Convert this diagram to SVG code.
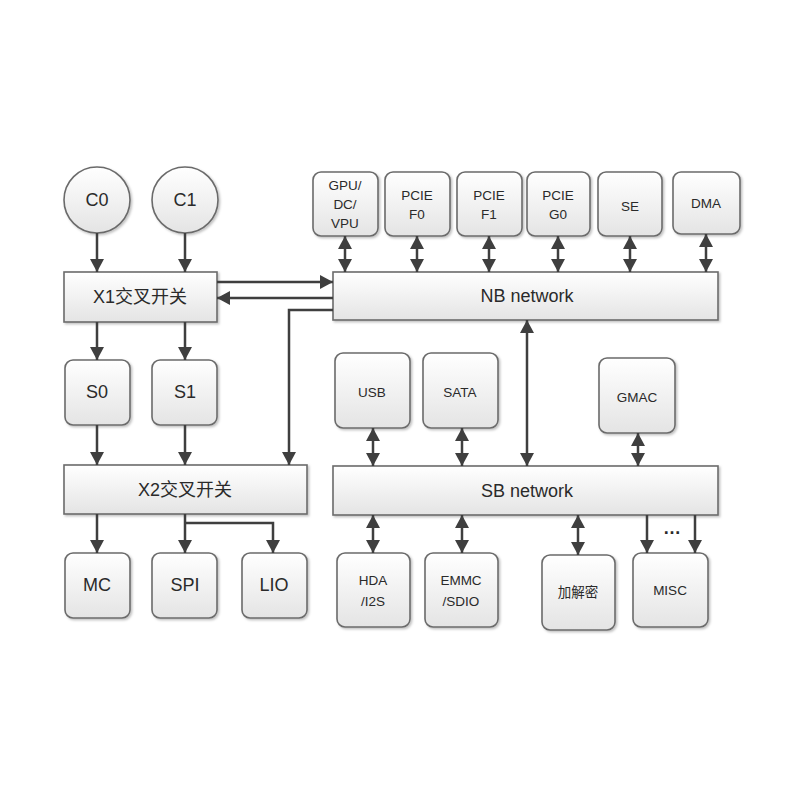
<svg xmlns="http://www.w3.org/2000/svg" width="800" height="800" viewBox="0 0 800 800">
<style>
.b{fill:url(#g);stroke:#6b6b6b;stroke-width:1.6;filter:url(#sh)}
.t{font-family:"Liberation Sans","Noto Sans CJK SC",sans-serif;fill:#2a2a2a;text-anchor:middle;dominant-baseline:central}
.L{font-size:18px}
.s{font-size:13.5px}
.c line,.c path{stroke:#3f3f3f;stroke-width:2.5;fill:none}
.a{marker-end:url(#ar)}
.d{marker-start:url(#ar);marker-end:url(#ar)}
</style>
<defs>
<linearGradient id="g" x1="0" y1="0" x2="0" y2="1"><stop offset="0" stop-color="#ffffff"/><stop offset="1" stop-color="#e4e4e4"/></linearGradient>
<filter id="sh" x="-10%" y="-10%" width="130%" height="130%"><feDropShadow dx="1.5" dy="1.5" stdDeviation="1.2" flood-color="#000" flood-opacity="0.25"/></filter>
<marker id="ar" viewBox="0 0 13 14" refX="13" refY="7" markerWidth="13" markerHeight="14" markerUnits="userSpaceOnUse" orient="auto-start-reverse"><path d="M0,0 L13,7 L0,14 z" fill="#3f3f3f"/></marker>
</defs>
<rect width="800" height="800" fill="#fff"/>

<g id="C0"><circle class="b" cx="97" cy="200" r="33"/><text class="t L" x="97" y="200">C0</text></g>
<g id="C1"><circle class="b" cx="185" cy="200" r="33"/><text class="t L" x="185" y="200">C1</text></g>
<g id="X1"><rect class="b" x="64" y="272" width="153" height="50"/><text class="t L" x="140" y="297">X1交叉开关</text></g>
<g id="S0"><rect class="b" x="65" y="360" width="65" height="65" rx="8"/><text class="t L" x="97" y="392">S0</text></g>
<g id="S1"><rect class="b" x="152" y="360" width="65" height="65" rx="8"/><text class="t L" x="185" y="392">S1</text></g>
<g id="X2"><rect class="b" x="64" y="465" width="243" height="49"/><text class="t L" x="185" y="490">X2交叉开关</text></g>
<g id="MC"><rect class="b" x="65" y="553" width="65" height="65" rx="8"/><text class="t L" x="97" y="585">MC</text></g>
<g id="SPI"><rect class="b" x="152" y="553" width="65" height="65" rx="8"/><text class="t L" x="185" y="585">SPI</text></g>
<g id="LIO"><rect class="b" x="242" y="553" width="65" height="65" rx="8"/><text class="t L" x="274" y="585">LIO</text></g>

<g id="NB"><rect class="b" x="333" y="272" width="385" height="48"/><text class="t L" x="527" y="296">NB network</text></g>
<g id="GPU"><rect class="b" x="313" y="172" width="65" height="64" rx="8"/><text class="t s" x="345" y="185">GPU/</text><text class="t s" x="345" y="204">DC/</text><text class="t s" x="345" y="223">VPU</text></g>
<g id="PCIEF0"><rect class="b" x="385" y="172" width="65" height="64" rx="8"/><text class="t s" x="417" y="195">PCIE</text><text class="t s" x="417" y="214">F0</text></g>
<g id="PCIEF1"><rect class="b" x="457" y="172" width="65" height="64" rx="8"/><text class="t s" x="489" y="195">PCIE</text><text class="t s" x="489" y="214">F1</text></g>
<g id="PCIEG0"><rect class="b" x="527" y="172" width="63" height="64" rx="8"/><text class="t s" x="558" y="195">PCIE</text><text class="t s" x="558" y="214">G0</text></g>
<g id="SE"><rect class="b" x="598" y="172" width="64" height="64" rx="8"/><text class="t s" x="630" y="206">SE</text></g>
<g id="DMA"><rect class="b" x="673" y="172" width="67" height="62" rx="8"/><text class="t s" x="706" y="203">DMA</text></g>

<g id="SB"><rect class="b" x="333" y="466" width="385" height="49"/><text class="t L" x="527" y="491">SB network</text></g>
<g id="USB"><rect class="b" x="335" y="353" width="75" height="75" rx="8"/><text class="t s" x="372" y="392">USB</text></g>
<g id="SATA"><rect class="b" x="423" y="353" width="75" height="75" rx="8"/><text class="t s" x="460" y="392">SATA</text></g>
<g id="GMAC"><rect class="b" x="599" y="358" width="76" height="75" rx="8"/><text class="t s" x="637" y="397">GMAC</text></g>
<g id="HDA"><rect class="b" x="337" y="553" width="73" height="74" rx="8"/><text class="t s" x="373" y="580">HDA</text><text class="t s" x="373" y="601">/I2S</text></g>
<g id="EMMC"><rect class="b" x="425" y="553" width="73" height="74" rx="8"/><text class="t s" x="461" y="580">EMMC</text><text class="t s" x="461" y="601">/SDIO</text></g>
<g id="CRYPTO"><rect class="b" x="542" y="555" width="73" height="75" rx="8"/><text class="t s" x="578" y="592">加解密</text></g>
<g id="MISC"><rect class="b" x="633" y="553" width="75" height="74" rx="8"/><text class="t s" x="670" y="590">MISC</text></g>

<g id="connectors" class="c">
<line class="a" x1="97" y1="233" x2="97" y2="272"/>
<line class="a" x1="185" y1="233" x2="185" y2="272"/>
<line class="a" x1="217" y1="282" x2="333" y2="282"/>
<line class="a" x1="333" y1="298" x2="217" y2="298"/>
<path class="a" d="M333,310 H289 V465"/>
<line class="a" x1="97" y1="322" x2="97" y2="360"/>
<line class="a" x1="185" y1="322" x2="185" y2="360"/>
<line class="a" x1="97" y1="425" x2="97" y2="465"/>
<line class="a" x1="185" y1="425" x2="185" y2="465"/>
<line class="a" x1="97" y1="514" x2="97" y2="553"/>
<line class="a" x1="185" y1="514" x2="185" y2="553"/>
<path class="a" d="M185,523 H273 V553"/>
<line class="d" x1="345" y1="236" x2="345" y2="272"/>
<line class="d" x1="417" y1="236" x2="417" y2="272"/>
<line class="d" x1="489" y1="236" x2="489" y2="272"/>
<line class="d" x1="558" y1="236" x2="558" y2="272"/>
<line class="d" x1="630" y1="236" x2="630" y2="272"/>
<line class="d" x1="706" y1="234" x2="706" y2="272"/>
<line class="d" x1="527" y1="320" x2="527" y2="466"/>
<line class="d" x1="373" y1="428" x2="373" y2="466"/>
<line class="d" x1="462" y1="428" x2="462" y2="466"/>
<line class="d" x1="638" y1="433" x2="638" y2="466"/>
<line class="d" x1="373" y1="515" x2="373" y2="553"/>
<line class="d" x1="462" y1="515" x2="462" y2="553"/>
<line class="d" x1="578" y1="515" x2="578" y2="555"/>
<line class="a" x1="647" y1="515" x2="647" y2="553"/>
<line class="a" x1="695" y1="515" x2="695" y2="553"/>
</g>
<text class="t L" x="672" y="528" font-weight="bold">…</text>
</svg>
